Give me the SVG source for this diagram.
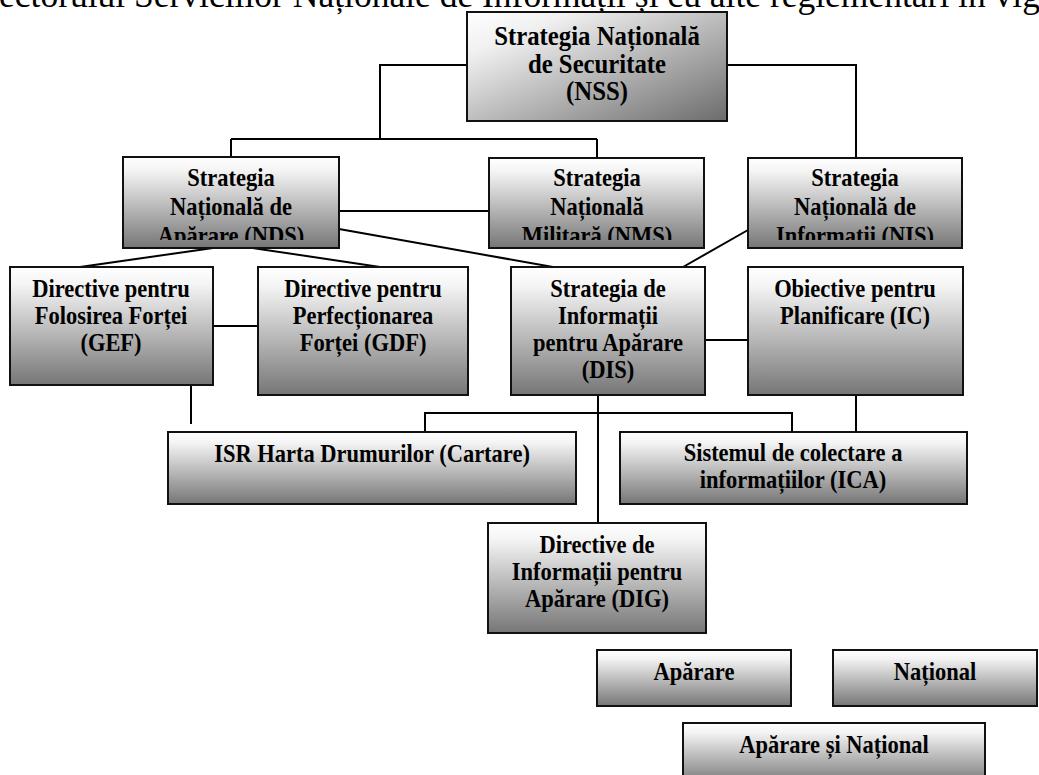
<svg xmlns="http://www.w3.org/2000/svg" width="1039" height="775" viewBox="0 0 1039 775">
<defs>
<linearGradient id="gv" x1="0" y1="0" x2="0" y2="1">
<stop offset="0" stop-color="#ffffff"/>
<stop offset="0.15" stop-color="#f4f4f4"/>
<stop offset="1" stop-color="#767676"/>
</linearGradient>
<linearGradient id="gd" x1="0" y1="0" x2="1" y2="1">
<stop offset="0" stop-color="#ffffff"/>
<stop offset="0.2" stop-color="#f0f0f0"/>
<stop offset="1" stop-color="#6c6c6c"/>
</linearGradient>
<clipPath id="clipRow2"><rect x="0" y="150" width="1039" height="90"/></clipPath>
</defs>
<style>
.box{fill:url(#gv);stroke:#111;stroke-width:2}
.boxd{fill:url(#gd);stroke:#111;stroke-width:2}
.t{font-family:"Liberation Serif","Times New Roman",serif;font-weight:bold;font-size:25px;fill:#000;text-anchor:middle}
.tl{font-size:27.5px}
.cap{font-family:"Liberation Serif","Times New Roman",serif;font-size:35.5px;fill:#000}
.c{fill:none;stroke:#000;stroke-width:2}
</style>
<rect width="1039" height="775" fill="#fff"/>
<text class="cap" x="-1" y="7">ectorului Serviciilor Naționale de Informații și cu alte reglementări în vigoare</text>
<g id="connectors">
<path class="c" d="M467,65 H380 V139 M231,139 H597 M231,139 V157 M597,139 V158"/>
<path class="c" d="M727,65 H856 V158"/>
<path class="c" d="M339,211 H489"/>
<path class="c" d="M339,229 L553,267"/>
<path class="c" d="M213,248 L80,267"/>
<path class="c" d="M253,248 L380,267"/>
<path class="c" d="M748,230 L683,267"/>
<path class="c" d="M213,326 H258"/>
<path class="c" d="M705,340 H748"/>
<path class="c" d="M191,385 V424"/>
<path class="c" d="M598,395 V523"/>
<path class="c" d="M425,432 V413 H792 V432"/>
<path class="c" d="M856,395 V432"/>
</g>
<g id="nss">
<rect class="boxd" x="467" y="12" width="260" height="109"/>
<g transform="translate(597 0) scale(0.9 1)">
<text class="t tl" x="0" y="45">Strategia Națională</text>
<text class="t tl" x="0" y="73">de Securitate</text>
<text class="t tl" x="0" y="100">(NSS)</text>
</g>
</g>
<g id="nds">
<rect class="box" x="123" y="157" width="216" height="91"/>
<g clip-path="url(#clipRow2)">
<g transform="translate(231 0) scale(0.9 1)">
<text class="t" x="0" y="186">Strategia</text>
<text class="t" x="0" y="215">Națională de</text>
<text class="t" x="0" y="244">Apărare (NDS)</text>
</g>
</g>
</g>
<g id="nms">
<rect class="box" x="489" y="158" width="215" height="90"/>
<g clip-path="url(#clipRow2)">
<g transform="translate(597 0) scale(0.9 1)">
<text class="t" x="0" y="186">Strategia</text>
<text class="t" x="0" y="215">Națională</text>
<text class="t" x="0" y="244">Militară (NMS)</text>
</g>
</g>
</g>
<g id="nis">
<rect class="box" x="748" y="158" width="214" height="90"/>
<g clip-path="url(#clipRow2)">
<g transform="translate(855 0) scale(0.9 1)">
<text class="t" x="0" y="186">Strategia</text>
<text class="t" x="0" y="215">Națională de</text>
<text class="t" x="0" y="244">Informații (NIS)</text>
</g>
</g>
</g>
<g id="gef">
<rect class="box" x="10" y="267" width="203" height="118"/>
<g transform="translate(111 0) scale(0.9 1)">
<text class="t" x="0" y="297">Directive pentru</text>
<text class="t" x="0" y="324">Folosirea Forței</text>
<text class="t" x="0" y="351">(GEF)</text>
</g>
</g>
<g id="gdf">
<rect class="box" x="258" y="267" width="210" height="128"/>
<g transform="translate(363 0) scale(0.9 1)">
<text class="t" x="0" y="297">Directive pentru</text>
<text class="t" x="0" y="324">Perfecționarea</text>
<text class="t" x="0" y="351">Forței (GDF)</text>
</g>
</g>
<g id="dis">
<rect class="box" x="511" y="267" width="194" height="128"/>
<g transform="translate(608 0) scale(0.9 1)">
<text class="t" x="0" y="297">Strategia de</text>
<text class="t" x="0" y="324">Informații</text>
<text class="t" x="0" y="351">pentru Apărare</text>
<text class="t" x="0" y="378">(DIS)</text>
</g>
</g>
<g id="ic">
<rect class="box" x="748" y="267" width="215" height="128"/>
<g transform="translate(855 0) scale(0.9 1)">
<text class="t" x="0" y="297">Obiective pentru</text>
<text class="t" x="0" y="324">Planificare (IC)</text>
</g>
</g>
<g id="isr">
<rect class="box" x="168" y="432" width="408" height="72"/>
<g transform="translate(372 0) scale(0.9 1)">
<text class="t" x="0" y="462">ISR Harta Drumurilor (Cartare)</text>
</g>
</g>
<g id="ica">
<rect class="box" x="620" y="432" width="347" height="72"/>
<g transform="translate(793 0) scale(0.9 1)">
<text class="t" x="0" y="461">Sistemul de colectare a</text>
<text class="t" x="0" y="488">informațiilor (ICA)</text>
</g>
</g>
<g id="dig">
<rect class="box" x="488" y="523" width="218" height="110"/>
<g transform="translate(597 0) scale(0.9 1)">
<text class="t" x="0" y="553">Directive de</text>
<text class="t" x="0" y="580">Informații pentru</text>
<text class="t" x="0" y="607">Apărare (DIG)</text>
</g>
</g>
<g id="aparare">
<rect class="box" x="597" y="650" width="194" height="56"/>
<g transform="translate(694 0) scale(0.9 1)">
<text class="t" x="0" y="680">Apărare</text>
</g>
</g>
<g id="national">
<rect class="box" x="833" y="650" width="204" height="56"/>
<g transform="translate(935 0) scale(0.9 1)">
<text class="t" x="0" y="680">Național</text>
</g>
</g>
<g id="aparare-national">
<rect class="box" x="683" y="723" width="302" height="62"/>
<g transform="translate(834 0) scale(0.9 1)">
<text class="t" x="0" y="753">Apărare și Național</text>
</g>
</g>
</svg>
